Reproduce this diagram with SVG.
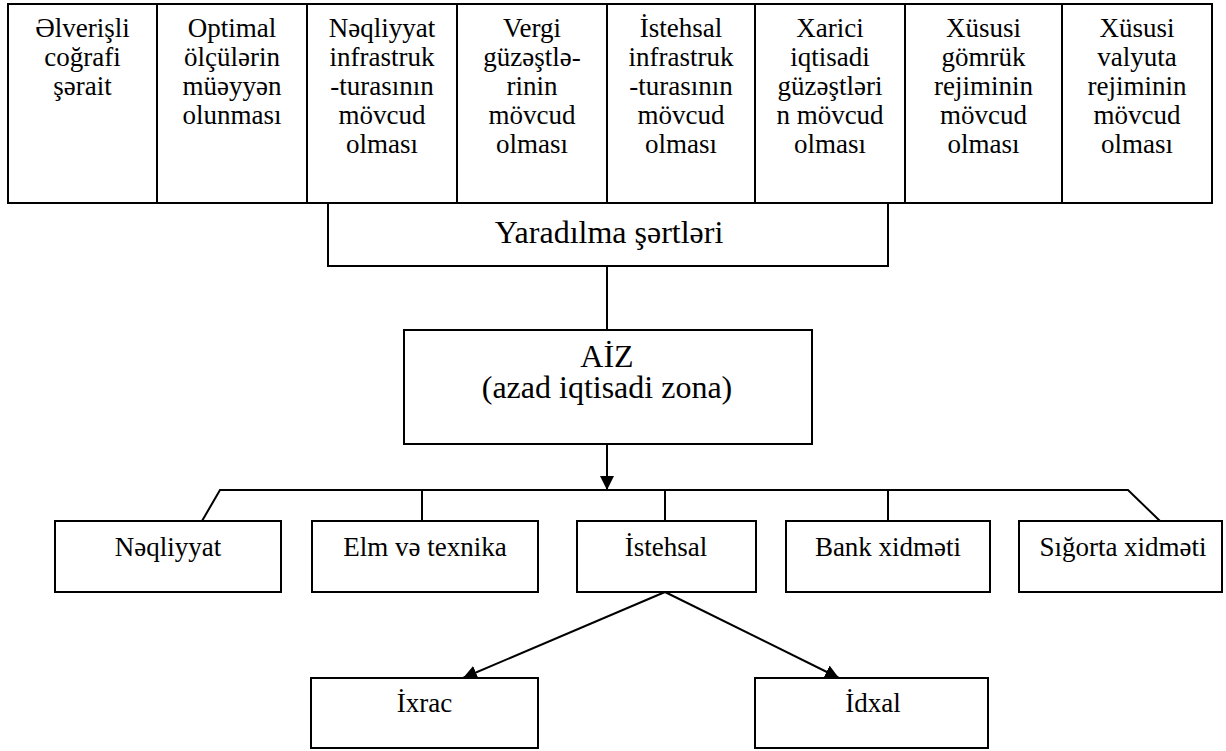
<svg xmlns="http://www.w3.org/2000/svg" width="1226" height="751" viewBox="0 0 1226 751">
<style>
.b{fill:#fff;stroke:#000;stroke-width:2}
.l{fill:none;stroke:#000;stroke-width:2}
text{font-family:"Liberation Serif","Times New Roman",serif;fill:#000;text-anchor:middle}
.t{font-size:27px}
.h{font-size:32px}
</style>
<defs>
<marker id="ah" viewBox="0 0 14 14" refX="14" refY="7" markerWidth="14" markerHeight="14" markerUnits="userSpaceOnUse" orient="auto">
<path d="M0,0 L14,7 L0,14 Z" fill="#000"/>
</marker>
</defs>
<rect width="1226" height="751" fill="#fff"/>
<g id="cond1"><rect class="b" x="8" y="4" width="149" height="199"/><text class="t" x="82.5" y="37">Əlverişli<tspan x="82.5" dy="29">coğrafi</tspan><tspan x="82.5" dy="29">şərait</tspan></text></g>
<g id="cond2"><rect class="b" x="157" y="4" width="150" height="199"/><text class="t" x="232" y="37">Optimal<tspan x="232" dy="29">ölçülərin</tspan><tspan x="232" dy="29">müəyyən</tspan><tspan x="232" dy="29">olunması</tspan></text></g>
<g id="cond3"><rect class="b" x="307" y="4" width="150" height="199"/><text class="t" x="382" y="37">Nəqliyyat<tspan x="382" dy="29">infrastruk</tspan><tspan x="382" dy="29">-turasının</tspan><tspan x="382" dy="29">mövcud</tspan><tspan x="382" dy="29">olması</tspan></text></g>
<g id="cond4"><rect class="b" x="457" y="4" width="150" height="199"/><text class="t" x="532" y="37">Vergi<tspan x="532" dy="29">güzəştlə-</tspan><tspan x="532" dy="29">rinin</tspan><tspan x="532" dy="29">mövcud</tspan><tspan x="532" dy="29">olması</tspan></text></g>
<g id="cond5"><rect class="b" x="607" y="4" width="148" height="199"/><text class="t" x="681" y="37">İstehsal<tspan x="681" dy="29">infrastruk</tspan><tspan x="681" dy="29">-turasının</tspan><tspan x="681" dy="29">mövcud</tspan><tspan x="681" dy="29">olması</tspan></text></g>
<g id="cond6"><rect class="b" x="755" y="4" width="150" height="199"/><text class="t" x="830" y="37">Xarici<tspan x="830" dy="29">iqtisadi</tspan><tspan x="830" dy="29">güzəştləri</tspan><tspan x="830" dy="29">n mövcud</tspan><tspan x="830" dy="29">olması</tspan></text></g>
<g id="cond7"><rect class="b" x="905" y="4" width="157" height="199"/><text class="t" x="983.5" y="37">Xüsusi<tspan x="983.5" dy="29">gömrük</tspan><tspan x="983.5" dy="29">rejiminin</tspan><tspan x="983.5" dy="29">mövcud</tspan><tspan x="983.5" dy="29">olması</tspan></text></g>
<g id="cond8"><rect class="b" x="1062" y="4" width="150" height="199"/><text class="t" x="1137" y="37">Xüsusi<tspan x="1137" dy="29">valyuta</tspan><tspan x="1137" dy="29">rejiminin</tspan><tspan x="1137" dy="29">mövcud</tspan><tspan x="1137" dy="29">olması</tspan></text></g>
<g id="yaradilma"><rect class="b" x="328" y="203" width="560" height="63"/><text class="h" x="609" y="243">Yaradılma şərtləri</text></g>
<g id="aiz"><rect class="b" x="404" y="330" width="408" height="114"/><text class="h" x="607" y="367">AİZ</text><text class="h" x="607" y="398">(azad iqtisadi zona)</text></g>
<g id="neqliyyat"><rect class="b" x="55" y="521" width="226" height="71"/><text class="t" x="168" y="556">Nəqliyyat</text></g>
<g id="elm"><rect class="b" x="312" y="521" width="226" height="71"/><text class="t" x="425" y="556">Elm və texnika</text></g>
<g id="istehsal"><rect class="b" x="577" y="521" width="179" height="71"/><text class="t" x="666" y="556">İstehsal</text></g>
<g id="bank"><rect class="b" x="786" y="521" width="204" height="71"/><text class="t" x="888" y="556">Bank xidməti</text></g>
<g id="sigorta"><rect class="b" x="1019" y="521" width="203" height="71"/><text class="t" x="1123" y="556">Sığorta xidməti</text></g>
<g id="ixrac"><rect class="b" x="311" y="678" width="227" height="70"/><text class="t" x="424.5" y="712">İxrac</text></g>
<g id="idxal"><rect class="b" x="755" y="678" width="233" height="70"/><text class="t" x="873" y="712">İdxal</text></g>
<g id="connectors">
<line class="l" x1="607" y1="266" x2="607" y2="330"/>
<line class="l" x1="607" y1="444" x2="607" y2="490" marker-end="url(#ah)"/>
<polyline class="l" points="202,521 220,490 1128,490 1160,521"/>
<line class="l" x1="422" y1="490" x2="422" y2="521"/>
<line class="l" x1="665" y1="490" x2="665" y2="521"/>
<line class="l" x1="888" y1="490" x2="888" y2="521"/>
<line class="l" x1="665" y1="592" x2="463" y2="678" marker-end="url(#ah)"/>
<line class="l" x1="665" y1="592" x2="839" y2="678" marker-end="url(#ah)"/>
</g>
</svg>
